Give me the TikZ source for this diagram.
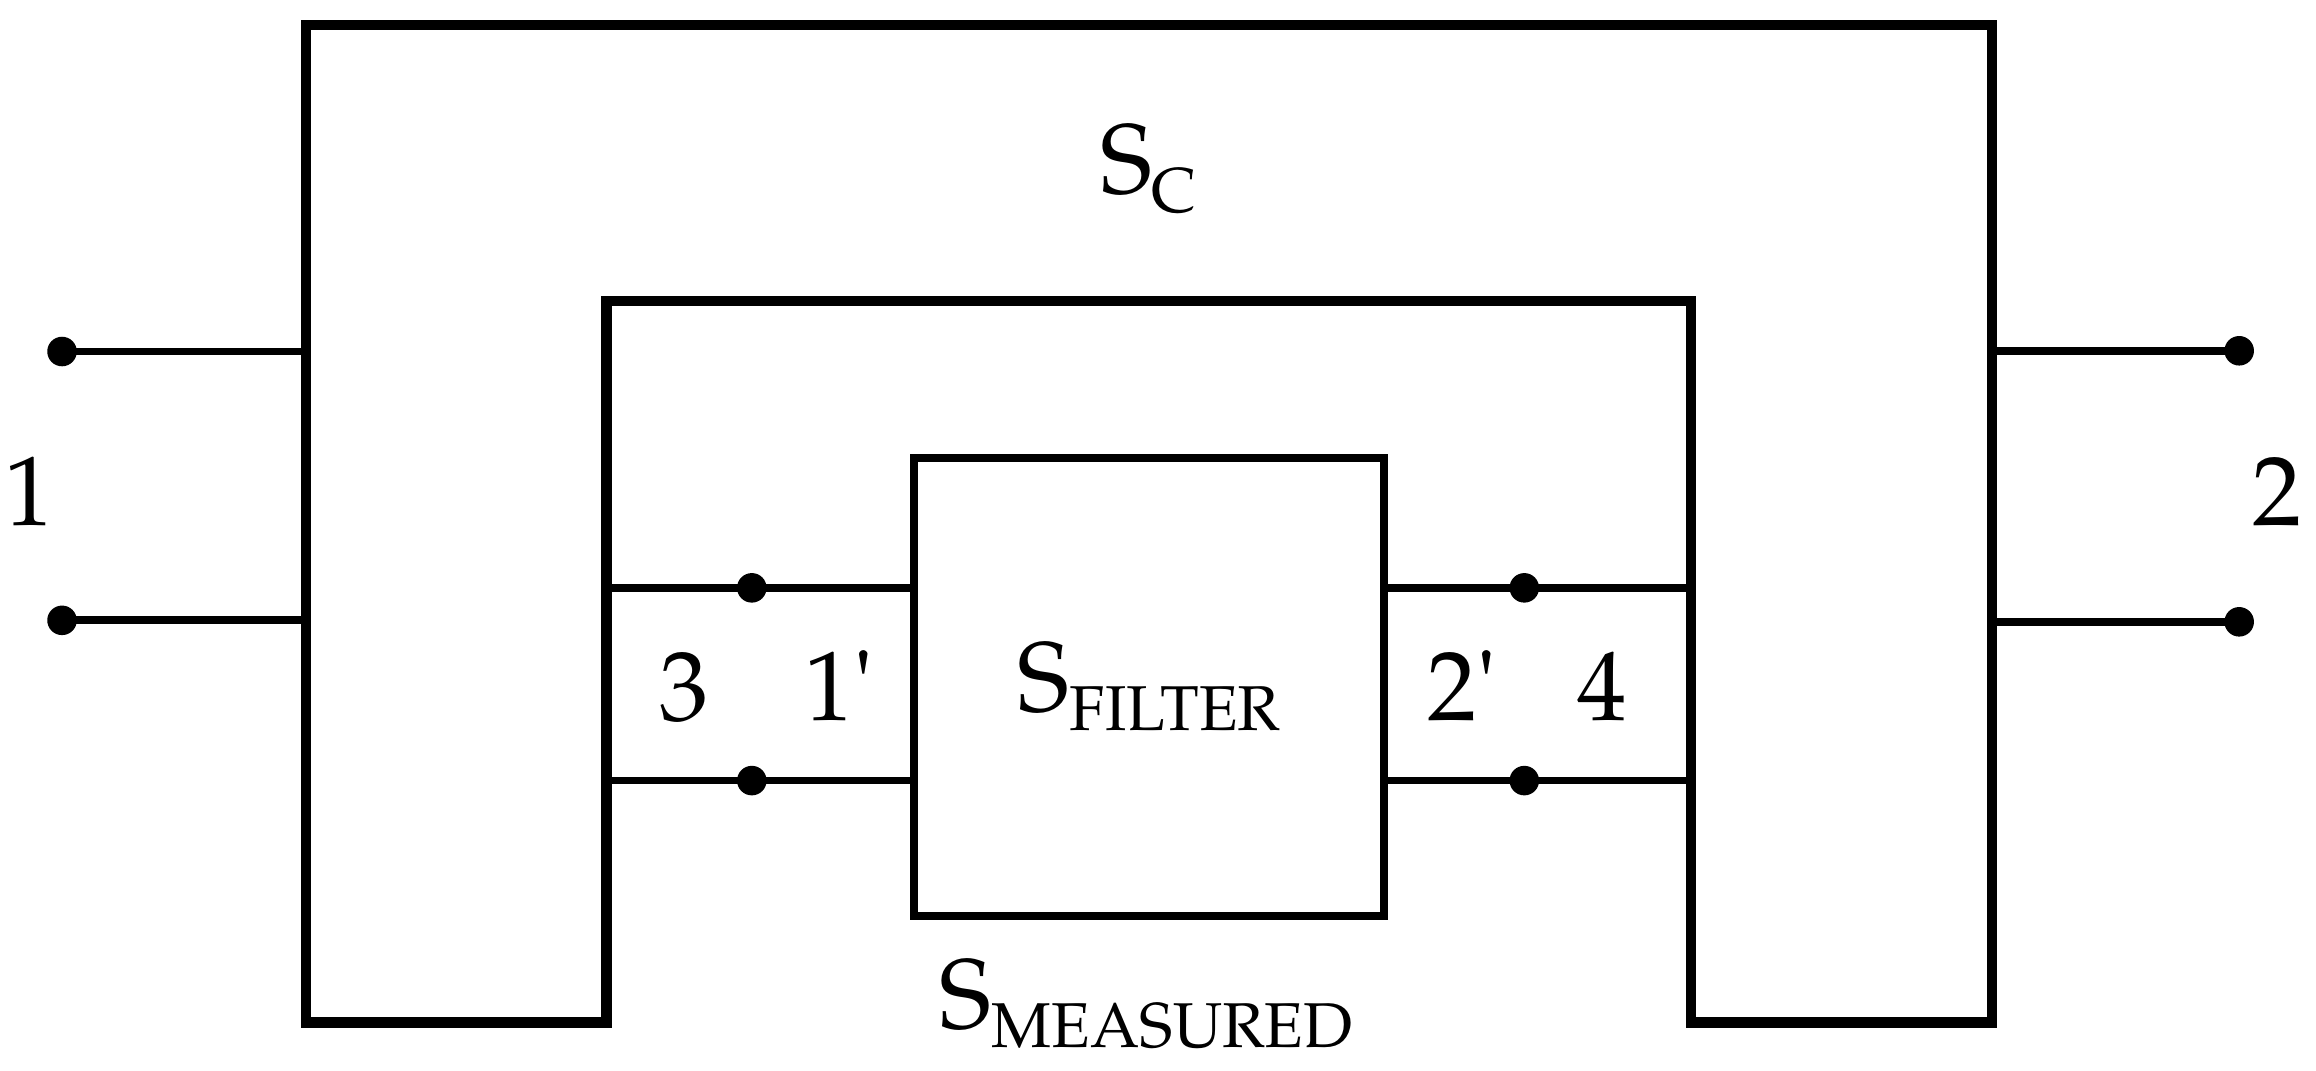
\documentclass[tikz,border=0pt]{standalone}
\usepackage[T1]{fontenc}
\usepackage{mathpazo}
\usepackage{tikz}
\usetikzlibrary{calc}
\newcommand{\Sname}[1]{S\raisebox{-0.13cm}{\fontsize{12.2}{14}\selectfont #1}}
\tikzset{
  wall/.style={line width=2pt, line join=miter},
  wire/.style={line width=1.5pt},
  term/.style={circle, fill, inner sep=0pt, outer sep=0pt, minimum size=0.2cm},
  lab/.style={font=\fontsize{19}{23}\selectfont, inner sep=0pt},
}

\begin{document}
\begin{tikzpicture}[x=0.01cm, y=-0.01cm]
  \useasboundingbox (0,0) rectangle (1568,725);

  % outer network S_C with the notch for the measured part
  \draw[wall] (207,692.4) -- (207,17) -- (1348.5,17) -- (1348.5,692.4)
    -- (1145,692.4) -- (1145,204) -- (410.5,204) -- (410.5,692.4) -- cycle;

  % the filter
  \node[draw, wire, lab, minimum width=3.18cm, minimum height=3.10cm] (filter)
    at (778,465) {\Sname{FILTER}};

  % terminals
  \foreach \n/\x/\y in {p1a/42/238, p1b/42/420, p2a/1516/237.5, p2b/1516/421,
                        d1a/509/398, d1b/509/528.5, d2a/1032/398, d2b/1032/528.5}{
    \node[term] (\n) at (\x,\y) {};
  }

  % points on the walls
  \coordinate (w1a) at (207,238);
  \coordinate (w1b) at (207,420);
  \coordinate (w2a) at (1348.5,237.5);
  \coordinate (w2b) at (1348.5,421);
  \coordinate (n3a) at (410.5,398);
  \coordinate (n3b) at (410.5,528.5);
  \coordinate (n4a) at (1145,398);
  \coordinate (n4b) at (1145,528.5);

  % wires
  \draw[wire] (p1a.center) -- (w1a);
  \draw[wire] (p1b.center) -- (w1b);
  \draw[wire] (w2a) -- (p2a.center);
  \draw[wire] (w2b) -- (p2b.center);
  \draw[wire] (n3a) -- (d1a.center) -- (filter.west |- d1a);
  \draw[wire] (n3b) -- (d1b.center) -- (filter.west |- d1b);
  \draw[wire] (filter.east |- d2a) -- (d2a.center) -- (n4a);
  \draw[wire] (filter.east |- d2b) -- (d2b.center) -- (n4b);

  % labels
  \node[lab, anchor=base] (sc) at (777.5,130.7) {\Sname{C}};
  \node[lab, anchor=base] (smeas) at (776,696.5) {\Sname{MEASURED}};
  \node[lab, anchor=base] (port1) at (20,356) {1};
  \node[lab, anchor=base] (port2) at (1541.5,355.5) {2};
  \node[lab, anchor=base] (port3) at (463,488) {3};
  \node[lab, anchor=base] (port1p) at (568,488) {1\textquotesingle};
  \node[lab, anchor=base] (port2p) at (990,488) {2\textquotesingle};
  \node[lab, anchor=base] (port4) at (1085,488) {4};
\end{tikzpicture}
\end{document}
